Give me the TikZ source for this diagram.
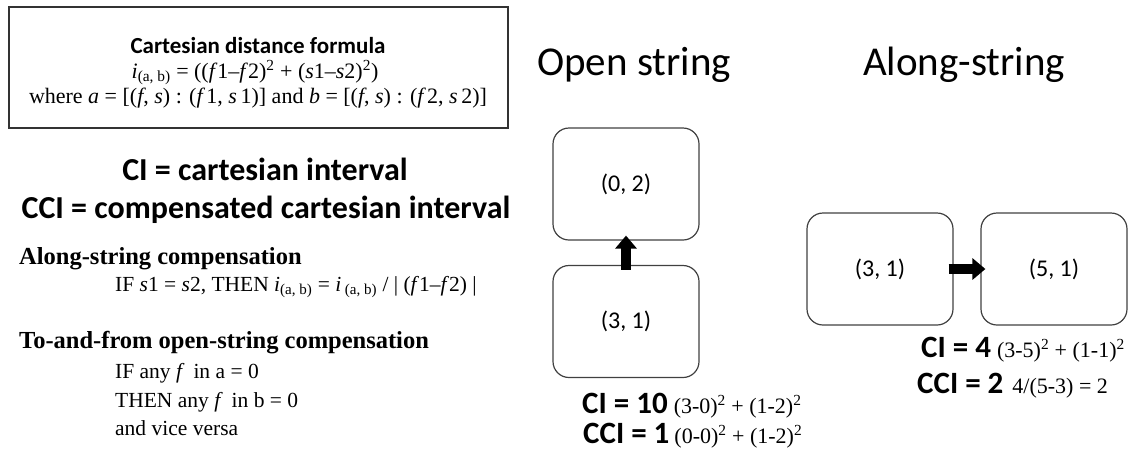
\documentclass[tikz,border=0pt]{standalone}
\usepackage{fontspec}
\setmainfont{Liberation Serif}
\setsansfont{Carlito}
\usetikzlibrary{arrows.meta}
\newcommand\fs[1]{\fontsize{#1}{#1}\selectfont}
\newcommand\subab{\textsubscript{(a, b)}}
\tikzset{
  rbox/.style={draw=black!75, line width=1.2pt, rounded corners=16pt, minimum width=146pt, minimum height=112pt, inner sep=0pt, font=\sffamily\fs{24}},
  blockarrow/.style={line width=10pt, -{Triangle[width=21pt,length=13pt]}},
  txt/.style={inner sep=0pt, anchor=base west},
  ctxt/.style={inner sep=0pt, anchor=base},
  title/.style={ctxt, font=\sffamily\fs{41}},
  bigsans/.style={ctxt, font=\sffamily\bfseries\fs{32}},
  head/.style={txt, font=\bfseries\fs{24.5}},
  body/.style={txt, font=\fs{21.5}},
}
\begin{document}
\begin{tikzpicture}[x=1pt,y=-1pt]
\useasboundingbox (0,0) rectangle (1138,456);
% formula box
\node[draw=black!80, line width=1.2pt, minimum width=499pt, minimum height=121pt, inner sep=0pt] (fbox) at (258.5,67.5) {};
\node[ctxt, font=\sffamily\bfseries\fs{23}] (ftitle) at (258,53) {Cartesian distance formula};
\node[ctxt, font=\fs{22}] (fline1) at (255,78) {\textit{i}\subab{} = ((\textit{f}1–\textit{f}2)\textsuperscript{2} + (\textit{s}1–\textit{s}2)\textsuperscript{2})};
\node[ctxt, font=\fs{22}] (fline2) at (258,103) {where \textit{a} = [(\textit{f}, \textit{s}) : (\textit{f\,}1, \textit{s\,}1)] and \textit{b} = [(\textit{f}, \textit{s}) : (\textit{f\,}2, \textit{s\,}2)]};
% definitions
\node[bigsans] (ci) at (265,180) {CI = cartesian interval};
\node[bigsans] (cci) at (266,218) {CCI = compensated cartesian interval};
\node[head] (along) at (19,264) {Along-string compensation};
\node[body] (alongrule) at (115,291) {IF \textit{s}1 = \textit{s}2, THEN \textit{i}\subab{} = \textit{i}\,\subab{} / | (\textit{f}1–\textit{f}2) |};
\node[head] (toand) at (19,348) {To-and-from open-string compensation};
\node[body] (r1) at (115,378) {IF any \textit{f}\, in a = 0};
\node[body] (r2) at (115,407) {THEN any \textit{f}\, in b = 0};
\node[body] (r3) at (115,435) {and vice versa};
% titles
\node[title] (topen) at (634,75) {Open string};
\node[title] (talong) at (964,75) {Along-string};
% open string boxes
\node[rbox] (os1) at (626,184) {(0, 2)};
\node[rbox] (os2) at (626,321.5) {(3, 1)};
\draw[blockarrow] ([yshift=-5pt]os2.north) -- ([yshift=5pt]os1.south);
% along string boxes
\node[rbox] (as1) at (880,269) {(3, 1)};
\node[rbox] (as2) at (1054,269) {(5, 1)};
\draw[blockarrow] ([xshift=-5pt]as1.east) -- ([xshift=5pt]as2.west);
% values
\node[txt] (ci10) at (582,413) {{\sffamily\bfseries\fs{31}CI = 10}\hspace{6pt}{\fs{22}(3-0)\textsuperscript{2} + (1-2)\textsuperscript{2}}};
\node[txt] (cci1) at (583,443) {{\sffamily\bfseries\fs{31}CCI = 1}\hspace{5pt}{\fs{22}(0-0)\textsuperscript{2} + (1-2)\textsuperscript{2}}};
\node[txt] (ci4) at (921,357) {{\sffamily\bfseries\fs{31}CI = 4}\hspace{6pt}{\fs{22}(3-5)\textsuperscript{2} + (1-1)\textsuperscript{2}}};
\node[txt] (cci2) at (917,393) {{\sffamily\bfseries\fs{31}CCI = 2}\hspace{9pt}{\fs{22}4/(5-3) = 2}};
\end{tikzpicture}
\end{document}
